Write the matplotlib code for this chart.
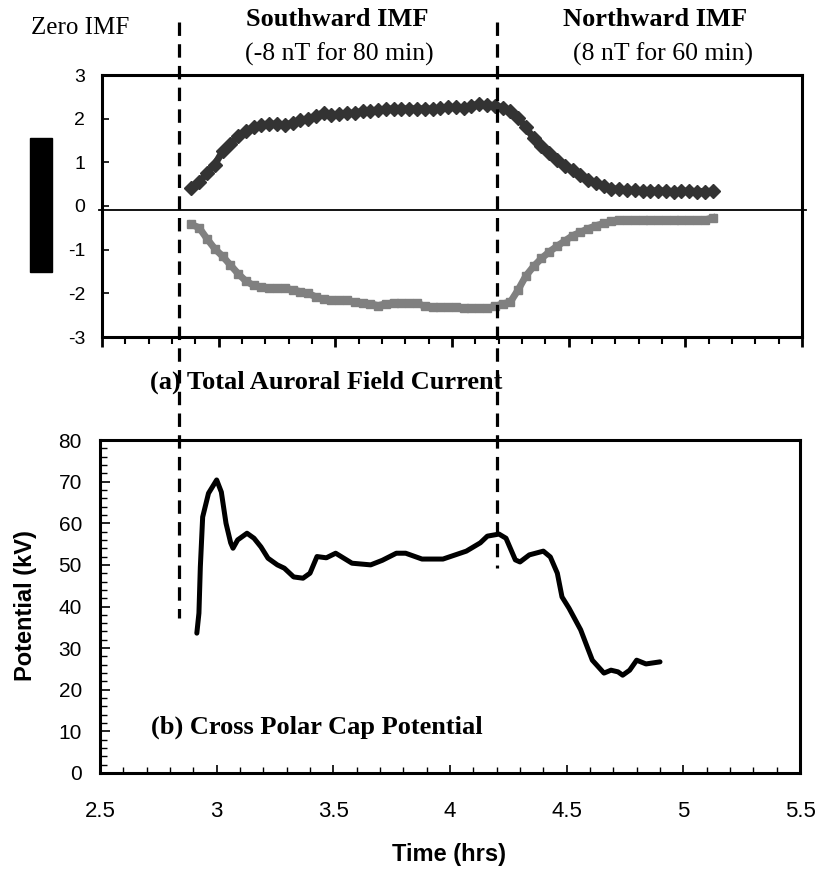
import numpy as np
import matplotlib
matplotlib.use("Agg")
import matplotlib.pyplot as plt
from matplotlib.lines import Line2D
from matplotlib.patches import Rectangle
from matplotlib.ticker import MultipleLocator
import matplotlib.transforms as mtransforms

plt.rcParams["axes.unicode_minus"] = False

# --- data ---
# (a) field-aligned current, sampled every 2 min (times in minutes)
fac_minutes = list(range(173, 309, 2))
fac_up = [0.42, 0.55, 0.75, 0.95, 1.25, 1.42, 1.60, 1.72, 1.80, 1.86,
          1.88, 1.87, 1.86, 1.90, 1.96, 2.00, 2.06, 2.14, 2.08, 2.10,
          2.12, 2.13, 2.17, 2.18, 2.20, 2.22, 2.22, 2.23, 2.22, 2.23,
          2.22, 2.22, 2.24, 2.26, 2.26, 2.25, 2.30, 2.33, 2.32, 2.30,
          2.25, 2.17, 2.02, 1.80, 1.55, 1.38, 1.22, 1.05, 0.92, 0.82,
          0.70, 0.60, 0.52, 0.46, 0.40, 0.38, 0.36, 0.36, 0.35, 0.34,
          0.35, 0.34, 0.33, 0.34, 0.34, 0.33, 0.33, 0.34]
fac_down = [-0.42, -0.50, -0.75, -0.98, -1.15, -1.35, -1.55, -1.72, -1.82, -1.86,
            -1.88, -1.88, -1.88, -1.92, -1.96, -2.00, -2.08, -2.14, -2.15, -2.15,
            -2.16, -2.20, -2.22, -2.24, -2.28, -2.24, -2.22, -2.22, -2.22, -2.22,
            -2.30, -2.32, -2.32, -2.32, -2.32, -2.33, -2.34, -2.34, -2.34, -2.30,
            -2.24, -2.20, -1.92, -1.60, -1.38, -1.20, -1.05, -0.92, -0.80, -0.68,
            -0.60, -0.52, -0.45, -0.40, -0.35, -0.32, -0.32, -0.32, -0.32, -0.32,
            -0.32, -0.32, -0.32, -0.32, -0.32, -0.32, -0.32, -0.27]

# (b) cross polar cap potential
pot_t = [2.915, 2.924, 2.93, 2.94, 2.965, 3.0, 3.02, 3.04, 3.06, 3.07,
         3.09, 3.13, 3.16, 3.19, 3.22, 3.26, 3.29, 3.33, 3.37, 3.40,
         3.43, 3.47, 3.51, 3.58, 3.66, 3.71, 3.77, 3.81, 3.88, 3.97,
         4.07, 4.13, 4.16, 4.21, 4.24, 4.28, 4.30, 4.34, 4.40, 4.43,
         4.46, 4.48, 4.51, 4.56, 4.59, 4.61, 4.66, 4.69, 4.72, 4.74,
         4.77, 4.80, 4.84, 4.90]
pot_v = [33.6, 38.4, 49.5, 61.5, 67.2, 70.4, 67.5, 60.0, 55.3, 54.0,
         56.0, 57.6, 56.4, 54.3, 51.6, 50.0, 49.2, 47.1, 46.8, 48.0,
         52.0, 51.7, 52.8, 50.4, 50.0, 51.1, 52.8, 52.8, 51.4, 51.4,
         53.3, 55.3, 56.9, 57.4, 56.4, 51.2, 50.7, 52.4, 53.3, 51.9,
         48.0, 42.3, 39.6, 34.4, 30.0, 27.1, 24.0, 24.7, 24.3, 23.5,
         24.7, 27.1, 26.2, 26.7]

imf_switch = [2.84, 4.2]          # IMF turning times (hrs)
x_ticks = [2.5, 3, 3.5, 4, 4.5, 5, 5.5]

serif = ["Liberation Serif", "DejaVu Serif"]
sans = ["Liberation Sans", "DejaVu Sans"]

fig = plt.figure(figsize=(8.21, 8.69), dpi=100)
W, H = 821, 869


def box(x0, y0, x1, y1):
    return [x0 / W, 1 - y1 / H, (x1 - x0) / W, (y1 - y0) / H]


ax1 = fig.add_axes(box(102, 75, 802, 337))
ax2 = fig.add_axes(box(100, 440, 800, 773))

# --- top panel ---
fac_t = np.array(fac_minutes) / 60.0
ax1.plot(fac_t, fac_up, ls="-", lw=5, marker="D", ms=6.8, color="#333333", mec="#333333")
ax1.plot(fac_t, fac_down, ls="-", lw=5, marker="s", ms=6.3, color="#808080", mec="#808080")
ax1.axhline(-0.1, color="black", lw=1.3, xmin=-0.005, xmax=1.005, clip_on=False)
ax1.set_xlim(2.5, 5.5)
ax1.set_ylim(-3, 3)
ax1.set_yticks(range(-3, 4))
ax1.xaxis.set_major_locator(MultipleLocator(0.5))
ax1.xaxis.set_minor_locator(MultipleLocator(0.1))
ax1.tick_params(axis="x", which="major", direction="out", length=7, width=2, labelbottom=False)
ax1.tick_params(axis="x", which="minor", direction="out", length=5, width=1.5)
ax1.tick_params(axis="y", direction="in", length=5, width=1.2, pad=12, labelsize=14)
for lab in ax1.get_yticklabels():
    lab.set_family(sans)

# --- bottom panel ---
ax2.plot(pot_t, pot_v, color="black", lw=3.6, solid_capstyle="round", solid_joinstyle="round")
ax2.set_xlim(2.5, 5.5)
ax2.set_ylim(0, 80)
ax2.set_xticks(x_ticks)
ax2.set_xticklabels([f"{v:g}" for v in x_ticks])
ax2.xaxis.set_minor_locator(MultipleLocator(0.1))
ax2.yaxis.set_major_locator(MultipleLocator(10))
ax2.yaxis.set_minor_locator(MultipleLocator(2))
ax2.tick_params(axis="x", which="major", direction="in", length=6, width=1.2, pad=20, labelsize=16)
ax2.tick_params(axis="x", which="minor", direction="in", length=4, width=1)
ax2.tick_params(axis="y", which="major", direction="in", length=7, width=1.2, pad=13, labelsize=15)
ax2.tick_params(axis="y", which="minor", direction="in", length=5, width=1)
for lab in ax2.get_xticklabels() + ax2.get_yticklabels():
    lab.set_family(sans)

for ax in (ax1, ax2):
    for sp in ax.spines.values():
        sp.set_linewidth(2.2)

# dashed IMF lines spanning both panels
tr = mtransforms.blended_transform_factory(ax2.transData, fig.transFigure)
for x, yb in zip(imf_switch, [618, 568]):
    fig.add_artist(Line2D([x, x], [1 - 22 / H, 1 - yb / H], transform=tr,
                          color="black", lw=2.3, ls=(0, (4.2, 2.6))))

# texts
fig.text(80 / W, 1 - 28 / H, "Zero IMF", family=serif, fontsize=18, ha="center", va="center")
fig.text(337 / W, 1 - 20 / H, "Southward IMF", family=serif, fontsize=19, weight="bold",
         ha="center", va="center")
fig.text(339 / W, 1 - 54 / H, "(-8 nT for 80 min)", family=serif, fontsize=18.5,
         ha="center", va="center")
fig.text(655 / W, 1 - 20 / H, "Northward IMF", family=serif, fontsize=19, weight="bold",
         ha="center", va="center")
fig.text(663 / W, 1 - 54 / H, "(8 nT for 60 min)", family=serif, fontsize=18.5,
         ha="center", va="center")
fig.text(326 / W, 1 - 382 / H, "(a) Total Auroral Field Current", family=serif, fontsize=19,
         weight="bold", ha="center", va="center")
fig.text(317 / W, 1 - 727 / H, "(b) Cross Polar Cap Potential", family=serif, fontsize=19,
         weight="bold", ha="center", va="center")
fig.text(26 / W, 1 - 606 / H, "Potential (kV)", family=sans, fontsize=17, weight="bold",
         rotation=90, ha="center", va="center")
fig.text(449 / W, 1 - 855 / H, "Time (hrs)", family=sans, fontsize=17, weight="bold",
         ha="center", va="center")

# redacted top-panel label
fig.add_artist(Rectangle((30 / W, 1 - 272 / H), 22 / W, 134 / H, transform=fig.transFigure,
                         color="black"))

fig.savefig("out.png", dpi=100)
